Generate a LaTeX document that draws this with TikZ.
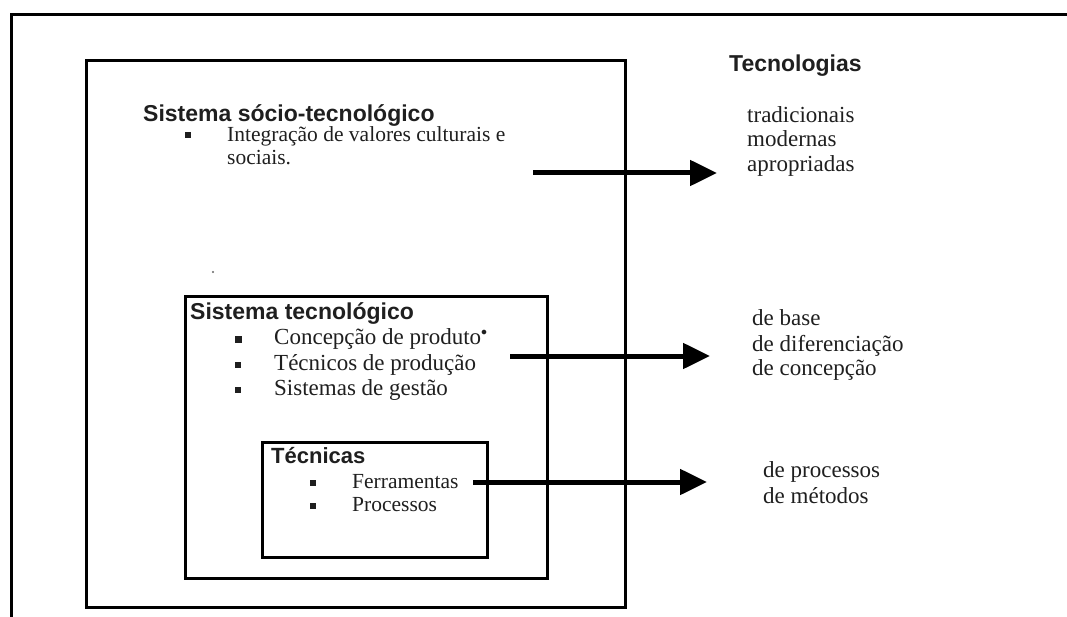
\documentclass[tikz,border=0pt]{standalone}
\usepackage{fontspec}
\setmainfont{Liberation Serif}
\newfontfamily\headfont{Liberation Sans}
\usetikzlibrary{arrows.meta}
\begin{document}
\begin{tikzpicture}[x=1bp,y=-1bp,
  edge/.style={line width=3bp, black},
  sysbox/.style={draw=black, line width=3bp},
  head/.style={anchor=base west, inner sep=0pt, text=black!88,
    font=\headfont\bfseries\fontsize{23bp}{27bp}\selectfont},
  body/.style={anchor=base west, inner sep=0pt, text=black!88,
    font=\fontsize{23bp}{25bp}\selectfont},
  small/.style={body, font=\fontsize{21.5bp}{24bp}\selectfont},
  bul/.style={fill=black!88, inner sep=0pt, minimum size=5.5bp},
  bigbul/.style={bul, minimum size=7bp},
  flow/.style={line width=5bp, black, -{Triangle[length=27bp,width=25bp]}}
]
\useasboundingbox (0,0) rectangle (1067,617);
\fill[white] (0,0) rectangle (1067,617);

% page frame (top and left edges)
\draw[edge] (1067,15) -- (11,15) -- (11,617);

% nested systems
\draw[sysbox] (86,61) rectangle (625,607);
\draw[sysbox] (185,296) rectangle (547,578);
\draw[sysbox] (262,442) rectangle (487,557);

% socio-technical system
\node[head] (socio) at (143,122) {Sistema sócio-tecnológico};
\node[bul] (b1) at (188,135) {};
\node[small] (valores1) at (227,142) {Integração de valores culturais e};
\node[small] (valores2) at (227,165) {sociais.};
\fill[black!60] (213,272) circle (1.2bp);

% technological system
\node[head] (tec) at (190,320) {Sistema tecnológico};
\node[bigbul] (b2) at (238,339) {};
\node[bul] (b3) at (238,365) {};
\node[bul] (b4) at (238,390) {};
\node[body] (conc) at (274,344) {Concepção de produto$^{\scriptscriptstyle\bullet}$};
\node[body] (tecn) at (274,370) {Técnicos de produção};
\node[body] (gest) at (274,395) {Sistemas de gestão};

% techniques
\node[head, font=\headfont\bfseries\fontsize{22bp}{26bp}\selectfont] (tecnicas) at (271,463) {Técnicas};
\node[bul] (b5) at (313,483) {};
\node[bul] (b6) at (313,506) {};
\node[small] (ferr) at (352,488) {Ferramentas};
\node[small] (proc) at (352,511) {Processos};

% technologies column
\node[head] (tecnologias) at (729,72) {Tecnologias};
\node[body] (t1) at (747,123) {tradicionais};
\node[body] (t2) at (747,147) {modernas};
\node[body] (t3) at (747,172) {apropriadas};
\node[body] (t4) at (752,325) {de base};
\node[body] (t5) at (752,351) {de diferenciação};
\node[body] (t6) at (752,375) {de concepção};
\node[body] (t7) at (763,477) {de processos};
\node[body] (t8) at (763,503) {de métodos};

% arrows from each system to its technologies
\coordinate (s1) at (533,173);
\coordinate (e1) at (717,173);
\coordinate (s2) at (510,356);
\coordinate (e2) at (710,356);
\coordinate (s3) at (473,482);
\coordinate (e3) at (707,482);
\draw[flow] (s1) -- (e1);
\draw[flow] (s2) -- (e2);
\draw[flow] (s3) -- (e3);
\end{tikzpicture}
\end{document}
